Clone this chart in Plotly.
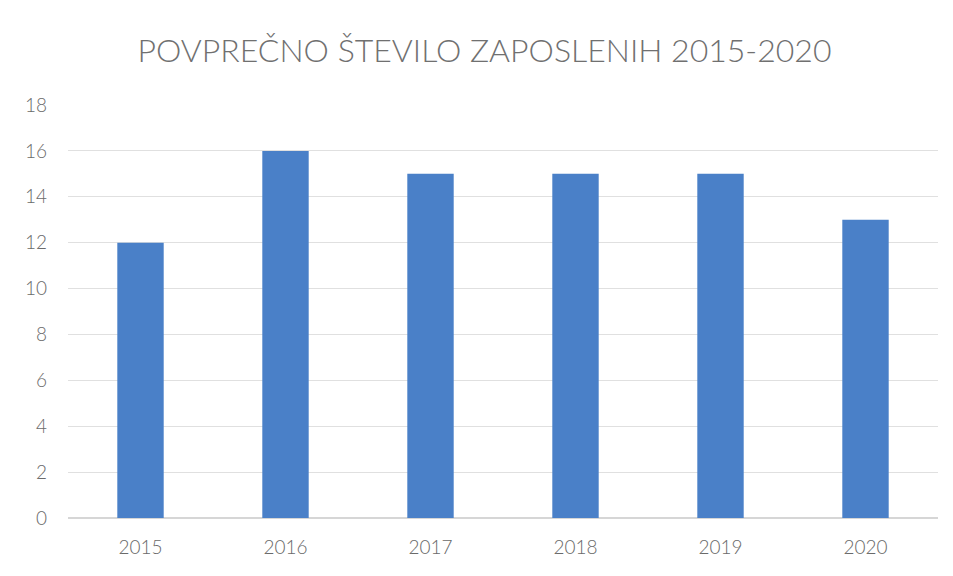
import plotly.graph_objects as go

years = ["2015", "2016", "2017", "2018", "2019", "2020"]
employees = [12, 16, 15, 15, 15, 13]
y_ticks = [0, 2, 4, 6, 8, 10, 12, 14, 16, 18]

fig = go.Figure(go.Bar(x=years, y=employees, marker_color="#4a80c8", marker_line_width=0))

fig.update_layout(
    width=953, height=576,
    paper_bgcolor="white", plot_bgcolor="white",
    margin=dict(l=60, r=23, t=97, b=66),
    bargap=0.68,
    title=dict(text="POVPREČNO ŠTEVILO ZAPOSLENIH 2015-2020", x=0.5, xanchor="center",
               y=0.925, yanchor="middle",
               font=dict(family="Lato, Open Sans, sans-serif", size=32, color="#707070", weight=300)),
    font=dict(family="Lato, Open Sans, sans-serif", size=19, color="#6a6a6a", weight=300),
    showlegend=False,
)
fig.update_yaxes(range=[0, 18], tickvals=y_ticks, showgrid=True, gridcolor="#e0e0e0",
                 gridwidth=1, zeroline=True, zerolinecolor="#d6d6d6", showline=False,
                 ticklabelstandoff=20)
fig.update_xaxes(showgrid=False, showline=False, ticklabelstandoff=16)
fig.write_html("out.html")
